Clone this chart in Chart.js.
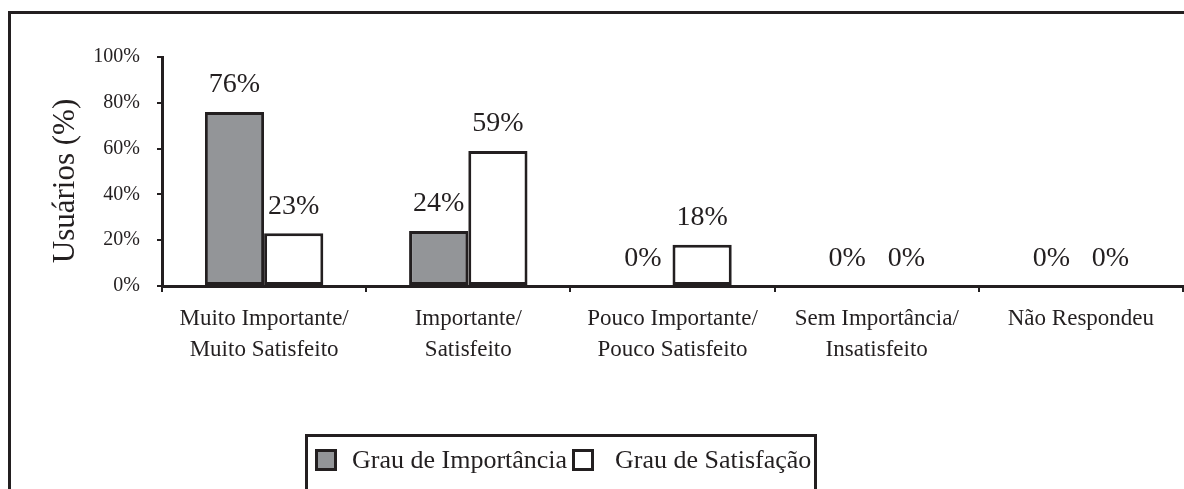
<!DOCTYPE html>
<html>
<head>
<meta charset="utf-8">
<script src="https://cdn.jsdelivr.net/npm/chart.js@4"></script>
<style>
  html, body { margin: 0; padding: 0; background: #fff; }
  #wrap { width: 1184px; height: 489px; position: relative; }
</style>
</head>
<body>
<div id="wrap"><canvas id="barChart"></canvas></div>
<script>
// chart data
const categories = [
    ['Muito Importante/', 'Muito Satisfeito'],
    ['Importante/', 'Satisfeito'],
    ['Pouco Importante/', 'Pouco Satisfeito'],
    ['Sem Importância/', 'Insatisfeito'],
    ['Não Respondeu']
];
const seriesNames = ['Grau de Importância', 'Grau de Satisfação'];
const importancia = [76, 24, 0, 0, 0];
const satisfacao = [23, 59, 18, 0, 0];
const yMin = 0;
const yMax = 100;
const yStep = 20;
const yTitle = 'Usuários (%)';

const ink = '#231f20';
const grey = '#939598';
const serif = "'Liberation Serif', 'DejaVu Serif', serif";

Chart.defaults.font.family = serif;
Chart.defaults.color = ink;

// value labels above each bar
const valueLabels = {
    id: 'valueLabels',
    afterDatasetsDraw(chart) {
        const ctx = chart.ctx;
        ctx.save();
        ctx.font = '28px ' + serif;
        ctx.fillStyle = ink;
        ctx.textAlign = 'center';
        ctx.textBaseline = 'middle';
        chart.data.datasets.forEach(function(ds, i) {
            chart.getDatasetMeta(i).data.forEach(function(bar, j) {
                ctx.fillText(ds.data[j] + '%', bar.x, bar.y - 27);
            });
        });
        ctx.restore();
    }
};

// frame, axis title and boxed legend
const decorations = {
    id: 'decorations',
    afterDraw(chart) {
        const ctx = chart.ctx;
        ctx.save();
        ctx.strokeStyle = ink;
        ctx.lineWidth = 3;
        ctx.beginPath();
        ctx.moveTo(9.5, chart.height);
        ctx.lineTo(9.5, 12.5);
        ctx.lineTo(chart.width, 12.5);
        ctx.stroke();

        // y axis title
        ctx.fillStyle = ink;
        ctx.font = '31px ' + serif;
        ctx.textAlign = 'center';
        ctx.textBaseline = 'middle';
        ctx.translate(66, 181);
        ctx.rotate(-Math.PI / 2);
        ctx.fillText(yTitle, 0, 0);
        ctx.setTransform(1, 0, 0, 1, 0, 0);

        // legend box
        ctx.lineWidth = 3;
        ctx.strokeRect(306.5, 435.5, 509, 60);
        ctx.font = '26px ' + serif;
        ctx.textAlign = 'left';
        const items = [{ x: 316, tx: 352 }, { x: 573, tx: 615 }];
        chart.data.datasets.forEach(function(ds, i) {
            const it = items[i];
            ctx.fillStyle = ds.backgroundColor;
            ctx.fillRect(it.x, 450, 20, 20);
            ctx.lineWidth = 3;
            ctx.strokeStyle = ink;
            ctx.strokeRect(it.x + 0.5, 450.5, 19, 19);
            ctx.fillStyle = ink;
            ctx.fillText(ds.label, it.tx, 461);
        });
        ctx.restore();
    }
};

const ctx = document.getElementById('barChart').getContext('2d');
const chart = new Chart(ctx, {
    type: 'bar',
    data: {
        labels: categories,
        datasets: [{
                label: seriesNames[0],
                data: importancia,
                backgroundColor: grey,
                borderColor: ink,
                borderWidth: 3,
                borderSkipped: false
            },
            {
                label: seriesNames[1],
                data: satisfacao,
                backgroundColor: '#ffffff',
                borderColor: ink,
                borderWidth: 3,
                borderSkipped: false
            }
        ]
    },
    options: {
        responsive: true,
        maintainAspectRatio: false,
        animation: false,
        layout: { padding: { top: 57, right: 1, left: 0, bottom: 0 } },
        datasets: { bar: { categoryPercentage: 0.58, barPercentage: 1 } },
        plugins: {
            legend: { display: false },
            tooltip: { enabled: false }
        },
        scales: {
            x: {
                offset: true,
                grid: { offset: true, drawOnChartArea: false, color: ink, lineWidth: 2, tickLength: 6 },
                border: { color: ink, width: 3 },
                ticks: {
                    color: ink,
                    padding: 11,
                    maxRotation: 0,
                    autoSkip: false,
                    font: { size: 23, lineHeight: 1.35 }
                },
                afterFit(scale) { scale.height = 489 - 286; }
            },
            y: {
                min: yMin,
                max: yMax,
                ticks: {
                    stepSize: yStep,
                    color: ink,
                    padding: 17,
                    font: { size: 20 },
                    callback: function(v) { return v + '%'; }
                },
                grid: { drawOnChartArea: false, color: ink, lineWidth: 2, tickLength: 5 },
                border: { color: ink, width: 3 },
                afterFit(scale) { scale.width = 162; }
            }
        }
    },
    plugins: [valueLabels, decorations]
});
</script>
</body>
</html>
